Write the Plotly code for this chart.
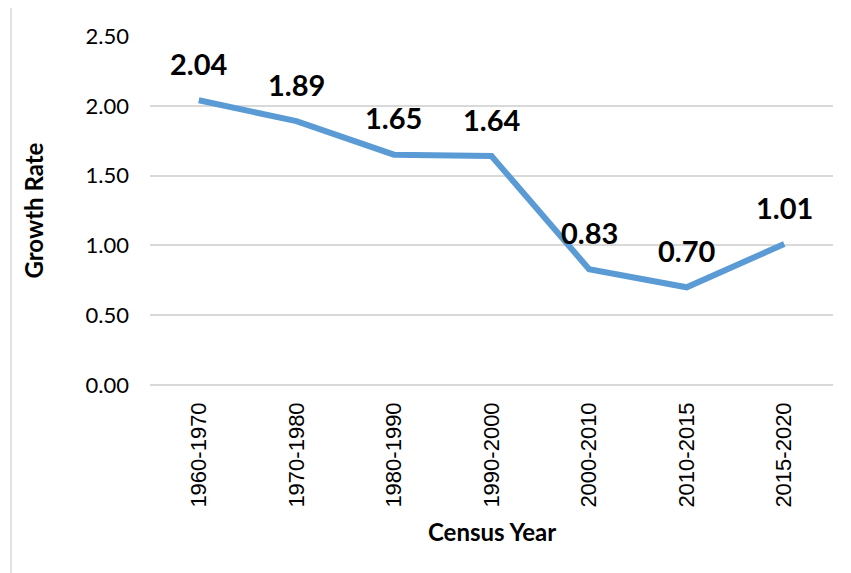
import plotly.graph_objects as go

# Data
periods = ['1960-1970', '1970-1980', '1980-1990', '1990-2000',
           '2000-2010', '2010-2015', '2015-2020']
growth_rate = [2.04, 1.89, 1.65, 1.64, 0.83, 0.70, 1.01]
y_ticks = [0, 0.5, 1.0, 1.5, 2.0, 2.5]

fig = go.Figure()

fig.add_trace(go.Scatter(
    x=periods,
    y=growth_rate,
    mode='lines',
    line=dict(color='#5B9BD5', width=6),
    showlegend=False,
    hoverinfo='x+y'
))

# data labels above each point
for p, v in zip(periods, growth_rate):
    fig.add_annotation(
        x=p, y=v, text=f"<b>{v:.2f}</b>",
        showarrow=False, yshift=37,
        font=dict(family='Lato', size=29, color='black')
    )

# axis titles
fig.add_annotation(
    x=0, y=0.5, xref='paper', yref='paper', xshift=-117,
    xanchor='center', yanchor='middle',
    text='<b>Growth Rate</b>', textangle=-90, showarrow=False,
    font=dict(family='Lato', size=24, color='black')
)
fig.add_annotation(
    x=0.5, y=0, xref='paper', yref='paper', yshift=-146,
    xanchor='center', yanchor='middle',
    text='<b>Census Year</b>', showarrow=False,
    font=dict(family='Lato', size=24, color='black')
)

# chart border (cropped on right and bottom)
fig.add_shape(
    type='rect', xref='paper', yref='paper',
    x0=-0.2035, x1=1.05, y0=-0.6, y1=1.083,
    line=dict(color='#D9D9D9', width=1.5)
)

fig.update_layout(
    width=843, height=565,
    margin=dict(l=142, r=18, t=28, b=188),
    plot_bgcolor='white', paper_bgcolor='white',
    xaxis=dict(
        type='category', range=[-0.5, 6.5],
        showgrid=False, showline=False, zeroline=False,
        tickangle=-90, ticklabelstandoff=12,
        tickfont=dict(family='Liberation Sans', size=22, color='black')
    ),
    yaxis=dict(
        range=[0, 2.5], tickvals=y_ticks, tickformat='.2f',
        showgrid=True, gridcolor='#D9D9D9', gridwidth=1.5,
        zeroline=True, zerolinecolor='#D9D9D9', zerolinewidth=1.5,
        showline=False, ticklabelstandoff=20,
        tickfont=dict(family='Lato', size=22, color='black')
    )
)

fig.write_html("out.html")
